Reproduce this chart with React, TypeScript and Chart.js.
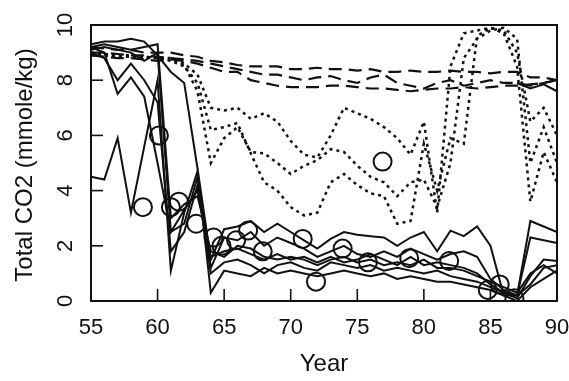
import React, { useEffect, useRef } from "react";
import { Chart, registerables } from "chart.js";

Chart.register(...registerables);

// ---------- data ----------
const years = [55,56,57,58,59,60,61,62,63,64,65,66,67,68,69,70,71,72,73,74,75,76,77,78,79,80,81,82,83,84,85,86,87,88,89,90];
const xTicks = [55, 60, 65, 70, 75, 80, 85, 90];
const yTicks = [0, 2, 4, 6, 8, 10];

// solid lines
const solidA = [9.3,9.4,9.4,9.5,9.4,8.9,8.3,7.9,4.8,1.5,2.6,2.7,2.9,2.5,2.8,2.5,2.2,1.9,2.25,2.5,2.4,2.35,2.3,2.0,2.3,2.5,1.8,2.55,2.35,2.7,2.0,0.2,0.2,2.9,2.7,2.5];
const solidB = [9.2,9.0,7.5,8.1,7.4,5.0,2.5,2.8,4.5,1.2,2.3,2.2,2.5,2.0,2.3,2.1,1.9,1.6,1.8,2.0,1.7,1.6,1.8,1.6,1.9,1.7,1.5,1.7,1.8,1.6,0.8,0.4,0.2,2.3,2.2,2.1];
const solidC = [4.5,4.4,5.9,3.2,5.6,8.0,1.1,3.2,4.7,0.3,1.1,1.0,0.9,1.2,1.0,1.1,1.0,0.9,1.0,1.1,1.0,0.9,1.0,0.8,0.9,0.8,0.7,0.7,0.6,0.5,0.4,0.2,0.0,0.5,0.8,1.1];
const solidD = [9.1,9.2,9.1,9.0,8.7,9.0,2.5,3.3,4.0,1.6,1.8,1.9,1.7,1.5,1.7,1.5,1.6,1.4,1.6,1.4,1.5,1.7,1.5,1.3,1.6,1.3,1.4,1.3,1.2,1.0,0.6,0.3,0.1,0.9,1.5,1.45];
const solidE = [9.0,8.8,8.0,8.6,8.0,7.2,1.8,2.5,4.2,1.0,1.4,1.5,1.3,1.0,1.3,1.4,1.2,1.1,1.4,1.3,1.2,1.3,1.1,1.2,1.1,1.0,1.1,0.9,0.8,0.7,0.5,0.3,0.2,0.6,1.2,1.3];
const solidF = [9.2,9.3,9.2,9.1,9.2,9.3,3.0,3.5,3.8,1.8,1.6,2.0,1.9,1.6,1.5,1.6,1.5,1.3,1.5,1.6,1.4,1.5,1.3,1.4,1.3,1.5,1.2,1.2,1.1,0.9,0.7,0.5,0.3,1.0,1.3,1.0];
const tailYears = [87, 88, 89, 90];
const solidTail = [7.9, 7.7, 7.85, 7.6];

// dashed lines
const dashA = [9.2,9.15,9.1,9.1,9.0,9.0,9.0,8.9,8.85,8.7,8.65,8.55,8.5,8.5,8.5,8.4,8.4,8.45,8.4,8.4,8.35,8.4,8.3,8.3,8.35,8.3,8.3,8.35,8.3,8.3,8.25,8.3,8.3,8.1,8.1,8.0];
const dashB = [9.0,9.0,8.95,8.9,8.9,8.85,8.8,8.75,8.7,8.6,8.5,8.4,8.3,8.2,8.2,8.1,8.0,8.1,8.15,8.0,7.9,8.1,8.2,7.9,7.8,7.7,7.9,8.0,7.8,7.9,8.0,7.9,7.9,7.8,7.9,8.0];
const dashC = [8.9,8.85,8.8,8.8,8.75,8.7,8.75,8.7,8.6,8.45,8.3,8.3,8.0,7.9,7.8,7.75,7.75,7.75,7.8,7.8,7.75,7.7,7.7,7.65,7.6,7.65,7.7,7.7,7.75,7.7,7.75,7.8,7.8,7.85,7.9,8.0];

// dotted lines
const dotA = [9.0,8.95,8.9,8.9,8.85,8.8,8.8,8.6,8.2,7.0,6.9,7.0,6.6,6.8,6.5,5.8,5.3,5.2,6.0,7.0,6.8,6.6,6.3,5.9,5.3,6.5,3.2,8.5,9.7,9.8,9.9,9.7,8.5,3.6,5.4,4.3];
const dotB = [8.9,8.9,8.85,8.85,8.8,8.8,8.7,8.5,7.9,6.2,6.3,6.45,5.35,4.3,4.0,3.4,3.1,3.2,4.3,4.6,4.2,3.9,3.8,2.8,2.9,5.7,4.0,5.9,5.7,9.6,9.9,9.8,9.0,6.5,7.0,6.0];
const dotC = [8.95,8.9,8.9,8.85,8.85,8.8,8.75,8.55,7.6,5.0,5.9,6.3,5.4,5.35,5.0,4.6,4.9,5.1,5.5,5.4,4.9,4.5,4.3,3.8,4.3,4.4,3.4,5.0,8.8,9.5,9.8,9.9,9.5,5.0,6.3,5.0];

// circles (observations)
const circleYears = [58.9,60.1,61.0,61.6,62.9,64.2,64.8,65.9,66.8,67.9,70.9,71.9,73.9,75.8,76.9,78.9,81.9,84.8,85.7,86.8];
const circleValues = [3.4,6.0,3.4,3.6,2.8,2.3,2.0,2.2,2.55,1.8,2.25,0.7,1.9,1.4,5.05,1.55,1.45,0.4,0.6,0.1];

const xTitle = "Year";
const yTitle = "Total CO2 (mmole/kg)";

// ---------- helpers ----------
const INK = "#111";
const FONT = '"Liberation Sans", Arial, Helvetica, sans-serif';

function pts(xs: number[], ys: number[]) {
  return xs.map((x, i) => ({ x, y: ys[i] }));
}

function lineSet(xs: number[], ys: number[], dash: number[], width: number) {
  return {
    type: "line" as const,
    data: pts(xs, ys),
    borderColor: INK,
    borderWidth: width,
    borderDash: dash,
    pointRadius: 0,
    fill: false,
    tension: 0,
  };
}

const framePlugin = {
  id: "frameAndText",
  afterDraw(chart: any) {
    const { ctx, chartArea: a, scales } = chart;
    const x = scales.x;
    const y = scales.y;
    ctx.save();
    ctx.strokeStyle = INK;
    ctx.lineWidth = 2;
    ctx.setLineDash([]);
    ctx.strokeRect(a.left, a.top, a.right - a.left, a.bottom - a.top);
    ctx.lineWidth = 1.6;
    xTicks.forEach((v) => {
      const px = x.getPixelForValue(v);
      ctx.beginPath();
      ctx.moveTo(px, a.bottom);
      ctx.lineTo(px, a.bottom - 12);
      ctx.stroke();
    });
    yTicks.forEach((v) => {
      const py = y.getPixelForValue(v);
      ctx.beginPath();
      ctx.moveTo(a.left, py);
      ctx.lineTo(a.left + 12, py);
      ctx.stroke();
    });
    ctx.fillStyle = INK;
    ctx.textAlign = "center";
    ctx.textBaseline = "middle";
    ctx.font = `22px ${FONT}`;
    xTicks.forEach((v) => {
      ctx.fillText(String(v), x.getPixelForValue(v), a.bottom + 27);
    });
    yTicks.forEach((v) => {
      ctx.save();
      ctx.translate(a.left - 25, y.getPixelForValue(v));
      ctx.rotate(-Math.PI / 2);
      ctx.fillText(String(v), 0, 0);
      ctx.restore();
    });
    ctx.font = `24px ${FONT}`;
    ctx.fillText(xTitle, (a.left + a.right) / 2, a.bottom + 63);
    ctx.save();
    ctx.translate(25, (a.top + a.bottom) / 2 + 2);
    ctx.rotate(-Math.PI / 2);
    ctx.fillText(yTitle, 0, 0);
    ctx.restore();
    ctx.restore();
  },
};

export default function App() {
  const ref = useRef<HTMLCanvasElement | null>(null);

  useEffect(() => {
    document.body.style.margin = "0";
    const canvas = ref.current;
    if (!canvas) return;
    const solidW = 2;
    const datasets: any[] = [
      lineSet(years, dashA, [13, 7], 2.2),
      lineSet(years, dashB, [13, 7], 2.2),
      lineSet(years, dashC, [13, 7], 2.2),
      lineSet(years, dotA, [3, 4], 2.5),
      lineSet(years, dotB, [3, 4], 2.5),
      lineSet(years, dotC, [3, 4], 2.5),
      lineSet(years, solidA, [], solidW),
      lineSet(years, solidB, [], solidW),
      lineSet(years, solidC, [], solidW),
      lineSet(years, solidD, [], solidW),
      lineSet(years, solidE, [], solidW),
      lineSet(years, solidF, [], solidW),
      lineSet(tailYears, solidTail, [], solidW),
      {
        type: "scatter" as const,
        data: pts(circleYears, circleValues),
        borderColor: INK,
        backgroundColor: "rgba(0,0,0,0)",
        borderWidth: 2,
        pointRadius: 9,
        pointStyle: "circle",
        showLine: false,
      },
    ];
    const chart = new Chart(canvas, {
      type: "line",
      data: { datasets },
      options: {
        animation: false,
        responsive: false,
        maintainAspectRatio: false,
        layout: { padding: { left: 91, right: 12, top: 25, bottom: 80 } },
        plugins: { legend: { display: false }, tooltip: { enabled: false } },
        scales: {
          x: { type: "linear", display: false, min: 55, max: 90, ticks: { stepSize: 5 } },
          y: { type: "linear", display: false, min: 0, max: 10, ticks: { stepSize: 2 } },
        },
      },
      plugins: [framePlugin],
    });
    return () => chart.destroy();
  }, []);

  return (
    <div style={{ width: 569, height: 381, background: "#fff" }}>
      <canvas ref={ref} width={569} height={381} style={{ display: "block" }} />
    </div>
  );
}
